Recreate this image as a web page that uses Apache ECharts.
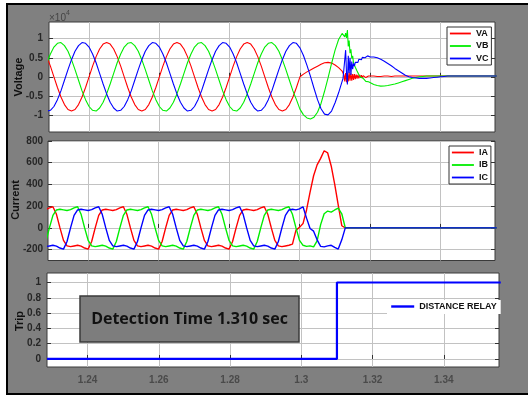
<!DOCTYPE html>
<html>
<head>
<meta charset="utf-8">
<script src="https://cdn.jsdelivr.net/npm/echarts@6/dist/echarts.min.js"></script>
<style>
  html, body { margin: 0; padding: 0; background: #fff; }
  #wrap { position: relative; width: 528px; height: 396px; overflow: hidden; }
  #frame { position: absolute; left: 6px; top: 3px; width: 540px; height: 392px; box-sizing: border-box;
           background: #808080; border: 2px solid #000; }
  #chart { position: absolute; left: 0; top: 0; width: 528px; height: 396px; }
</style>
</head>
<body>
<div id="wrap"><div id="frame"></div><div id="chart"></div></div>
<script>
// ---- tick positions ----
const timeTicks = [1.24, 1.26, 1.28, 1.3, 1.32, 1.34];
const voltageTicks = [-1, -0.5, 0, 0.5, 1];
const currentTicks = [-200, 0, 200, 400, 600, 800];
const tripTicks = [0, 0.2, 0.4, 0.6, 0.8, 1];

// ---- phase voltages, in units of 10^4 V ----
// before and during the fault: 1 ms samples
const vTimePre = [1.228,1.229,1.23,1.231,1.232,1.233,1.234,1.235,1.236,1.237,1.238,1.239,1.24,1.241,1.242,1.243,1.244,
  1.245,1.246,1.247,1.248,1.249,1.25,1.251,1.252,1.253,1.254,1.255,1.256,1.257,1.258,1.259,1.26,1.261,1.262,1.263,1.264,
  1.265,1.266,1.267,1.268,1.269,1.27,1.271,1.272,1.273,1.274,1.275,1.276,1.277,1.278,1.279,1.28,1.281,1.282,1.283,1.284,
  1.285,1.286,1.287,1.288,1.289,1.29,1.291,1.292,1.293,1.294,1.295,1.296,1.297,1.298,1.299,
  1.3,1.301,1.302,1.303,1.304,1.305,1.306,1.307,1.308,1.309,1.31,1.311,1.312];
const vaPre = [0.53,0.28,0,-0.28,-0.53,-0.73,-0.86,-0.9,-0.86,-0.73,-0.53,-0.28,0,0.28,0.53,0.73,0.86,
  0.9,0.86,0.73,0.53,0.28,0,-0.28,-0.53,-0.73,-0.86,-0.9,-0.86,-0.73,-0.53,-0.28,0,0.28,0.53,0.73,0.86,
  0.9,0.86,0.73,0.53,0.28,0,-0.28,-0.53,-0.73,-0.86,-0.9,-0.86,-0.73,-0.53,-0.28,0,0.28,0.53,0.73,0.86,
  0.9,0.86,0.73,0.53,0.28,0,-0.28,-0.53,-0.73,-0.86,-0.9,-0.86,-0.73,-0.53,-0.28,
  0,0.07,0.13,0.18,0.23,0.28,0.33,0.37,0.38,0.36,0.31,0.24,0.15];
const vbPre = [0.37,0.6,0.78,0.88,0.9,0.82,0.67,0.45,0.19,-0.09,-0.37,-0.6,-0.78,-0.88,-0.9,-0.82,-0.67,
  -0.45,-0.19,0.09,0.37,0.6,0.78,0.88,0.9,0.82,0.67,0.45,0.19,-0.09,-0.37,-0.6,-0.78,-0.88,-0.9,-0.82,-0.67,
  -0.45,-0.19,0.09,0.37,0.6,0.78,0.88,0.9,0.82,0.67,0.45,0.19,-0.09,-0.37,-0.6,-0.78,-0.88,-0.9,-0.82,-0.67,
  -0.45,-0.19,0.09,0.37,0.6,0.78,0.88,0.9,0.82,0.67,0.45,0.19,-0.09,-0.37,-0.6,
  -0.85,-1.0,-1.08,-1.11,-1.06,-0.93,-0.7,-0.38,-0.03,0.35,0.7,0.98,1.14];
const vcPre = [-0.9,-0.88,-0.78,-0.6,-0.37,-0.09,0.19,0.45,0.67,0.82,0.9,0.88,0.78,0.6,0.37,0.09,-0.19,
  -0.45,-0.67,-0.82,-0.9,-0.88,-0.78,-0.6,-0.37,-0.09,0.19,0.45,0.67,0.82,0.9,0.88,0.78,0.6,0.37,0.09,-0.19,
  -0.45,-0.67,-0.82,-0.9,-0.88,-0.78,-0.6,-0.37,-0.09,0.19,0.45,0.67,0.82,0.9,0.88,0.78,0.6,0.37,0.09,-0.19,
  -0.45,-0.67,-0.82,-0.9,-0.88,-0.78,-0.6,-0.37,-0.09,0.19,0.45,0.67,0.82,0.9,0.88,
  0.76,0.56,0.3,0.01,-0.3,-0.6,-0.84,-0.98,-1.0,-0.9,-0.68,-0.42,-0.12];

// breaker-opening transient: 0.25 ms samples
const vTimeTrans = [1.31225,1.3125,1.31275,1.313,1.31325,1.3135,1.31375,1.314,1.31425,1.3145,1.31475,1.315,
  1.31525,1.3155,1.31575,1.316,1.31625,1.3165,1.31675,1.317,1.31725,1.3175,1.31775,1.318,
  1.31825,1.3185,1.31875,1.319,1.31925,1.3195,1.31975,1.32];
const vaTrans = [0.1,0.05,-0.12,0.1,-0.14,0.08,-0.12,0.12,-0.1,0.09,-0.1,0.07,
  -0.08,0.07,-0.06,0.06,-0.05,0.05,-0.04,0.05,-0.03,0.04,-0.03,0.03,
  -0.02,0.03,-0.02,0.02,-0.01,0.02,-0.01,0.01];
const vbTrans = [1.16,1.18,1.05,1.15,1.02,1.23,0.8,0.95,0.62,0.72,0.48,0.55,
  0.36,0.4,0.25,0.27,0.15,0.16,0.06,0.08,-0.01,0.01,-0.06,-0.04,
  -0.09,-0.08,-0.12,-0.11,-0.14,-0.13,-0.16,-0.16];
const vcTrans = [-0.05,0,0.45,0.7,0.1,-0.2,0.55,0.1,0.5,0.05,0.4,0.2,
  0.35,0.28,0.38,0.33,0.42,0.38,0.46,0.42,0.49,0.45,0.51,0.48,
  0.53,0.5,0.55,0.51,0.55,0.52,0.55,0.52];

// decay after the trip: 1 ms samples
const vTimePost = [1.321,1.322,1.323,1.324,1.325,1.326,1.327,1.328,1.329,1.33,1.331,1.332,1.333,1.334,1.335,1.336,
  1.337,1.338,1.339,1.34,1.341,1.342,1.343,1.344,1.345,1.346,1.347,1.348,1.349,1.35,1.351,1.352,1.353,1.354,1.355,1.356];
const vaPost = [0.02,0.01,0.01,0.02,0.02,0.01,0.02,0.02,0.02,0.02,0.02,0.02,
  0.02,0.02,0.02,0.02,0.02,0.02,0.02,0.02,0.02,0.02,0.02,0.02,
  0.02,0.02,0.02,0.02,0.02,0.02,0.02,0.02,0.02,0.02,0.02,0.02];
const vbPost = [-0.2,-0.23,-0.245,-0.24,-0.23,-0.21,-0.19,-0.16,-0.13,-0.1,-0.07,-0.04,
  -0.02,0,0.01,0.02,0.02,0.02,0.02,0.02,0.02,0.02,0.02,0.02,
  0.02,0.02,0.02,0.02,0.02,0.02,0.02,0.02,0.02,0.02,0.02,0.02];
const vcPost = [0.52,0.5,0.46,0.41,0.35,0.29,0.22,0.16,0.1,0.04,0,-0.02,
  -0.03,-0.04,-0.04,-0.04,-0.03,-0.02,-0.01,0,0.01,0.02,0.02,0.02,
  0.02,0.02,0.02,0.02,0.02,0.02,0.02,0.02,0.02,0.02,0.02,0.02];

// ---- phase currents (A), 1 ms samples ----
const iTime = [1.228,1.229,1.23,1.231,1.232,1.233,1.234,1.235,1.236,1.237,1.238,1.239,1.24,1.241,1.242,1.243,1.244,
  1.245,1.246,1.247,1.248,1.249,1.25,1.251,1.252,1.253,1.254,1.255,1.256,1.257,1.258,1.259,1.26,1.261,1.262,1.263,1.264,
  1.265,1.266,1.267,1.268,1.269,1.27,1.271,1.272,1.273,1.274,1.275,1.276,1.277,1.278,1.279,1.28,1.281,1.282,1.283,1.284,
  1.285,1.286,1.287,1.288,1.289,1.29,1.291,1.292,1.293,1.294,1.295,1.296,1.297,1.298,1.299,
  1.3,1.301,1.302,1.303,1.304,1.305,1.306,1.307,1.308,1.309,1.31,1.311,1.312,1.313,1.356];
const ia = [168,185,195,125,0,-115,-165,-172,-166,-160,-168,-185,-195,-125,
  0,115,165,172,166,160,168,185,195,125,0,-115,-165,-172,-166,-160,-168,-185,-195,-125,
  0,115,165,172,166,160,168,185,195,125,0,-115,-165,-172,-166,-160,-168,-185,-195,-125,
  0,115,165,172,166,160,168,185,195,125,0,-115,-165,-172,-166,-160,
  -150,-20,5,40,165,330,480,580,640,710,690,570,400,210,20,0,0];
const ib = [-125,
  0,115,165,172,166,160,168,185,195,125,0,-115,-165,-172,-166,-160,-168,-185,-195,-125,
  0,115,165,172,166,160,168,185,195,125,0,-115,-165,-172,-166,-160,-168,-185,-195,-125,
  0,115,165,172,166,160,168,185,195,125,0,-115,-165,-172,-166,-160,-168,-185,-195,-125,
  0,115,165,172,166,160,168,185,195,125,
  0,-115,-160,-170,-165,-175,-120,30,130,155,145,165,182,130,0,0];
const ic = [-172,-166,-160,-168,-185,-195,-125,
  0,115,165,172,166,160,168,185,195,125,0,-115,-165,-172,-166,-160,-168,-185,-195,-125,
  0,115,165,172,166,160,168,185,195,125,0,-115,-165,-172,-166,-160,-168,-185,-195,-125,
  0,115,165,172,166,160,168,185,195,125,0,-115,-165,-172,-166,-160,-168,-185,-195,-125,
  0,115,165,172,166,
  175,195,90,-5,-30,-110,-170,-175,-165,-160,-180,-195,-110,0,0];

// ---- relay trip signal ----
const tripTime = [1.2286, 1.31, 1.31, 1.356];
const trip = [0, 0, 1, 1];

// ---------------------------------------------------------------
const T_MIN = 1.2286, T_MAX = 1.3555;
const TICK_FONT = 'Liberation Sans, Arial, sans-serif';

const pairs = (t, v) => t.map((x, i) => [x, v[i]]);
const vTime = vTimePre.concat(vTimeTrans, vTimePost);
const va = vaPre.concat(vaTrans, vaPost);
const vb = vbPre.concat(vbTrans, vbPost);
const vc = vcPre.concat(vcTrans, vcPost);

function timeAxis(gridIndex, showLabels) {
  return {
    type: 'value', gridIndex, min: T_MIN, max: T_MAX,
    axisLine: { show: false },
    axisTick: { show: true, inside: true, length: 4, customValues: timeTicks, lineStyle: { color: '#333' } },
    axisLabel: { show: showLabels, customValues: timeTicks, margin: 8, color: '#4a4a4a',
                 fontSize: 10, fontWeight: 'bold', fontFamily: TICK_FONT },
    splitLine: { show: true, lineStyle: { color: '#c2c2c2', width: 1 } }
  };
}
function leftAxis(gridIndex, min, max, ticks, margin) {
  return {
    type: 'value', gridIndex, min, max, position: 'left',
    axisLine: { show: false },
    axisTick: { show: true, inside: true, length: 4, customValues: ticks, lineStyle: { color: '#333' } },
    axisLabel: { customValues: ticks, margin, color: '#262626', fontSize: 10, fontWeight: 'bold', fontFamily: TICK_FONT },
    splitLine: { show: true, lineStyle: { color: '#c2c2c2', width: 1 } }
  };
}
function rightAxis(gridIndex, min, max, ticks) {
  return {
    type: 'value', gridIndex, min, max, position: 'right',
    axisLine: { show: false },
    axisTick: { show: true, inside: true, length: 4, customValues: ticks, lineStyle: { color: '#333' } },
    axisLabel: { show: false },
    splitLine: { show: false }
  };
}
function line(name, data, color, xi, yi, width) {
  return { name, type: 'line', data, xAxisIndex: xi, yAxisIndex: yi, symbol: 'none', showSymbol: false,
           lineStyle: { color, width }, itemStyle: { color }, clip: true, z: 3 };
}

const gridBox = { show: true, backgroundColor: '#fff', borderColor: '#3a3a3a', borderWidth: 1 };
const legendText = { fontSize: 9, fontWeight: 'bold', color: '#111', fontFamily: TICK_FONT };
// legend keys are plain line samples (no marker)
const legendKey = { itemStyle: { opacity: 0 }, lineStyle: { width: 1.8 } };

const option = {
  animation: false,
  grid: [
    Object.assign({ left: 49, top: 22, width: 446, height: 110 }, gridBox),
    Object.assign({ left: 48, top: 141, width: 447, height: 119.5 }, gridBox),
    Object.assign({ left: 47, top: 273, width: 452, height: 94 }, gridBox)
  ],
  xAxis: [timeAxis(0, false), timeAxis(1, false), timeAxis(2, true)],
  yAxis: [
    leftAxis(0, -1.45, 1.44, voltageTicks, 6),
    leftAxis(1, -300, 800, currentTicks, 5),
    leftAxis(2, -0.105, 1.124, tripTicks, 6),
    rightAxis(0, -1.45, 1.44, voltageTicks),
    rightAxis(1, -300, 800, currentTicks),
    rightAxis(2, -0.105, 1.124, tripTicks)
  ],
  legend: [
    Object.assign({ data: ['VA', 'VB', 'VC'], orient: 'vertical', left: 447, top: 27, itemWidth: 21, itemHeight: 9, itemGap: 3.5,
      padding: [2, 3, 2, 2], backgroundColor: '#fff', borderColor: '#333', borderWidth: 1, borderRadius: 0,
      textStyle: legendText }, legendKey),
    Object.assign({ data: ['IA', 'IB', 'IC'], orient: 'vertical', left: 449, top: 146, itemWidth: 22, itemHeight: 9, itemGap: 3.5,
      padding: [2, 3, 2, 2], backgroundColor: '#fff', borderColor: '#333', borderWidth: 1, borderRadius: 0,
      textStyle: legendText }, legendKey),
    Object.assign({ data: ['DISTANCE RELAY'], orient: 'vertical', left: 387, top: 300, itemWidth: 23, itemHeight: 10,
      padding: [2, 4, 3, 3], backgroundColor: '#fff', borderWidth: 0, textStyle: legendText },
      { itemStyle: { opacity: 0 }, lineStyle: { width: 2.4 } })
  ],
  series: [
    line('VA', pairs(vTime, va), '#ff0000', 0, 0, 1.1),
    line('VB', pairs(vTime, vb), '#00ee00', 0, 0, 1.1),
    line('VC', pairs(vTime, vc), '#0000ff', 0, 0, 1.1),
    line('IA', pairs(iTime, ia), '#ff0000', 1, 1, 1.4),
    line('IB', pairs(iTime, ib), '#00ee00', 1, 1, 1.4),
    line('IC', pairs(iTime, ic), '#0000ff', 1, 1, 1.4),
    line('DISTANCE RELAY', pairs(tripTime, trip), '#0000ff', 2, 2, 2.2)
  ],
  graphic: [
    { type: 'text', x: 49, y: 10, z: 10,
      style: { text: '{a|×10}{b|4}', rich: {
        a: { fontSize: 10, fontFamily: TICK_FONT, fill: '#444', verticalAlign: 'bottom' },
        b: { fontSize: 7, fontFamily: TICK_FONT, fill: '#444', verticalAlign: 'top', padding: [0, 0, 6, 0] } } } },
    { type: 'text', x: 19, y: 77, rotation: Math.PI / 2, z: 10,
      style: { text: 'Voltage', fontSize: 11, fontWeight: 'bold', fontFamily: TICK_FONT, fill: '#111',
               align: 'center', verticalAlign: 'middle', textAlign: 'center', textVerticalAlign: 'middle' } },
    { type: 'text', x: 16, y: 200, rotation: Math.PI / 2, z: 10,
      style: { text: 'Current', fontSize: 11, fontWeight: 'bold', fontFamily: TICK_FONT, fill: '#111',
               align: 'center', verticalAlign: 'middle', textAlign: 'center', textVerticalAlign: 'middle' } },
    { type: 'text', x: 20, y: 321, rotation: Math.PI / 2, z: 10,
      style: { text: 'Trip', fontSize: 11, fontWeight: 'bold', fontFamily: TICK_FONT, fill: '#111',
               align: 'center', verticalAlign: 'middle', textAlign: 'center', textVerticalAlign: 'middle' } },
    { type: 'rect', z: 20, shape: { x: 80, y: 296, width: 219, height: 46 },
      style: { fill: '#7d7d7d', stroke: '#3a3a3a', lineWidth: 1.5 } },
    { type: 'text', z: 21, x: 189.5, y: 319,
      style: { text: 'Detection Time 1.310 sec', fontSize: 16, fontWeight: 'bold', fontFamily: 'Open Sans, Lato, sans-serif',
               fill: '#111', align: 'center', verticalAlign: 'middle', textAlign: 'center', textVerticalAlign: 'middle' } }
  ]
};

const chart = echarts.init(document.getElementById('chart'), null, { renderer: 'canvas' });
chart.setOption(option);
</script>
</body>
</html>
